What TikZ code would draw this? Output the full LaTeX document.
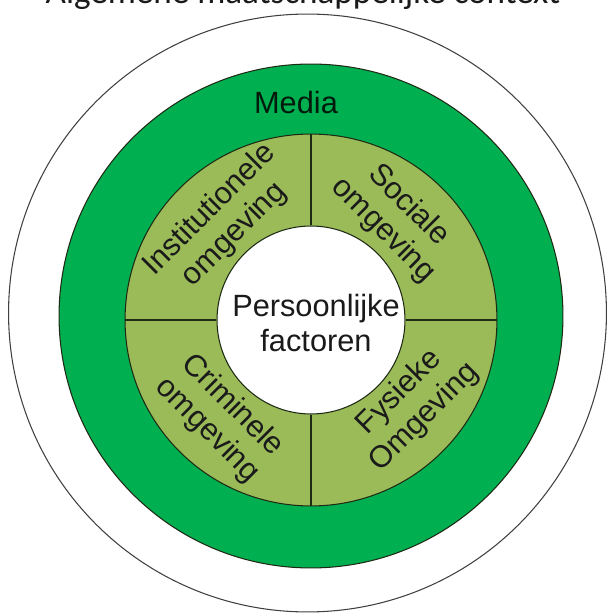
\documentclass[tikz,border=0pt]{standalone}
\usepackage{fontspec}
\setmainfont{Liberation Sans}
\newfontfamily\titlefont{Carlito}
\usepackage{tikz}
\definecolor{mediagreen}{HTML}{00B050}
\definecolor{olive}{HTML}{9BBB59}
\definecolor{ringline}{HTML}{1E2A14}
\definecolor{txt}{HTML}{1A1A1A}

\begin{document}
\begin{tikzpicture}[x=0.02cm, y=0.02cm,
    ring/.style={circle, inner sep=0pt, draw=ringline, line width=0.6pt},
    lbl/.style={font=\fontsize{17.5}{20}\selectfont, align=center, text=txt, inner sep=0pt}]
      \useasboundingbox (0,0) rectangle (609,616);

      % the rings, from outside in
      \node[ring, draw=black!75, fill=white, minimum size=11.96cm] (context) at (307.5,303) {};
      \node[ring, fill=mediagreen, minimum size=10.08cm] (media) at (311,300) {};
      \node[ring, fill=olive, minimum size=7.44cm] (env) at (311,296) {};
      \node[ring, fill=white, minimum size=3.76cm] (core) at (311,296) {};

      % quarters of the environment ring
      \draw[ringline, line width=0.6pt] (env.north) -- (core.north);
      \draw[ringline, line width=0.6pt] (env.south) -- (core.south);
      \draw[ringline, line width=0.6pt] (env.west) -- (core.west);
      \draw[ringline, line width=0.6pt] (env.east) -- (core.east);

      \node[font=\titlefont\fontsize{20}{24}\selectfont, text=txt, anchor=base] (title) at (303,612) {Algemene maatschappelijke context};
      \node[lbl, text=black!85!mediagreen] (medialbl) at (296,513.5) {Media};
      \node[lbl] (personal) at (316,293) {Persoonlijke\\factoren};

      \node[lbl, rotate=45] (inst) at (222,394) {Institutionele\\omgeving};
      \node[lbl, rotate=-45] (soc) at (396,398) {Sociale\\omgeving};
      \node[lbl, rotate=-45] (crim) at (220,198) {Criminele\\omgeving};
      \node[lbl, rotate=45] (phys) at (412,211) {Fysieke\\Omgeving};
    \end{tikzpicture}
\end{document}
